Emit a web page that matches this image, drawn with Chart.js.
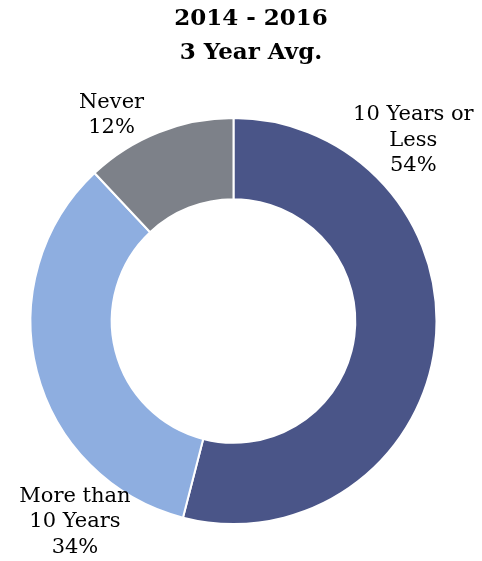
<!DOCTYPE html>
<html>
<head>
<meta charset="utf-8">
<script src="https://cdn.jsdelivr.net/npm/chart.js@4.4.1/dist/chart.umd.min.js"></script>
<style>
  html, body { margin: 0; padding: 0; background: #fff; }
  #wrap { width: 482px; height: 561px; }
</style>
</head>
<body>
<div id="wrap"><canvas id="chart"></canvas></div>
<script>
// data
const titleLines = ["2014 - 2016", "3 Year Avg."];
const categories = ["10 Years or Less", "More than 10 Years", "Never"];
const percents = [54, 34, 12];
const labelLines = [["10 Years or", "Less"], ["More than", "10 Years"], ["Never"]];
const sliceColors = ["#4a5588", "#8eaee0", "#7d8189"];

// where each label sits: angle from 12 o'clock (deg, clockwise) and distance as share of outer radius
const labelSpots = [
  { angle: 44.9, dist: 1.255 },
  { angle: 218.3, dist: 1.26 },
  { angle: -30.6, dist: 1.18 }
];

const fontFamily = "'DejaVu Serif', serif";

const titlePlugin = {
  id: "twoLineTitle",
  afterDraw(chart) {
    const ctx = chart.ctx;
    ctx.save();
    ctx.fillStyle = "#000";
    ctx.font = "bold 23px " + fontFamily;
    ctx.textAlign = "center";
    ctx.textBaseline = "middle";
    titleLines.forEach((t, i) => ctx.fillText(t, 251, 19 + i * 34));
    ctx.restore();
  }
};

const outsideLabels = {
  id: "outsideLabels",
  afterDraw(chart) {
    const ctx = chart.ctx;
    const arcs = chart.getDatasetMeta(0).data;
    ctx.save();
    ctx.fillStyle = "#000";
    ctx.font = "21px " + fontFamily;
    ctx.textAlign = "center";
    ctx.textBaseline = "middle";
    arcs.forEach((arc, i) => {
      const spot = labelSpots[i];
      const a = (spot.angle - 90) * Math.PI / 180;
      const r = arc.outerRadius * spot.dist;
      const cx = arc.x + Math.cos(a) * r;
      const cy = arc.y + Math.sin(a) * r;
      const lines = labelLines[i].concat([percents[i] + "%"]);
      const lh = 25.5;
      lines.forEach((l, j) => {
        ctx.fillText(l, cx, cy + (j - (lines.length - 1) / 2) * lh);
      });
    });
    ctx.restore();
  }
};

new Chart(document.getElementById("chart"), {
  type: "doughnut",
  data: {
    labels: categories,
    datasets: [{
      data: percents,
      backgroundColor: sliceColors,
      borderColor: "#ffffff",
      borderWidth: 2
    }]
  },
  options: {
    responsive: true,
    maintainAspectRatio: false,
    animation: false,
    cutout: "60%",
    layout: { padding: { top: 117, left: 29, right: 44, bottom: 36 } },
    plugins: {
      legend: { display: false },
      tooltip: { enabled: false },
      title: { display: false }
    }
  },
  plugins: [titlePlugin, outsideLabels]
});
</script>
</body>
</html>
